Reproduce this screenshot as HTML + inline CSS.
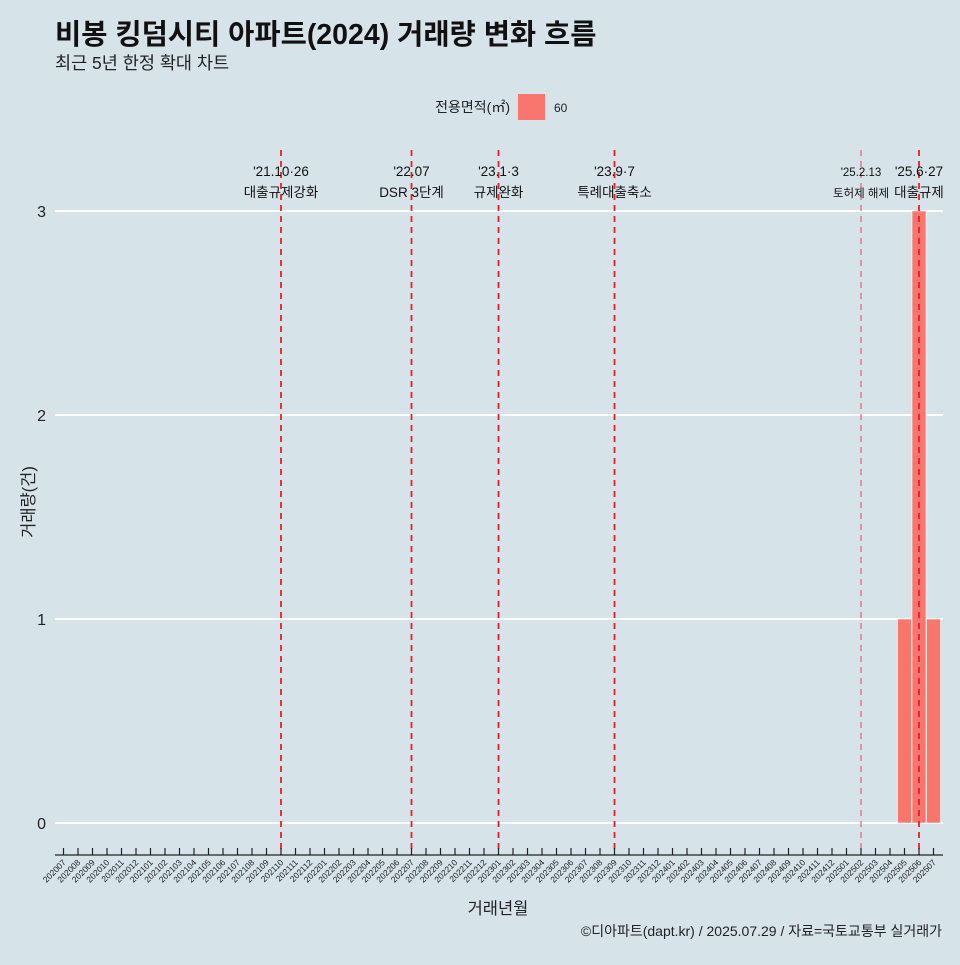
<!DOCTYPE html>
<html><head><meta charset="utf-8">
<style>
body{margin:0;background:#d6e4ea;font-family:"Liberation Sans","Noto Sans CJK KR",sans-serif;}
svg text{font-family:"Liberation Sans","Noto Sans CJK KR",sans-serif;}
</style></head>
<body>
<svg width="960" height="960" viewBox="0 0 960 960" xmlns="http://www.w3.org/2000/svg">
<rect width="960" height="960" fill="#d6e4ea"/>
<text x="55" y="44" font-size="28.5" font-weight="bold" fill="#111">비봉 킹덤시티 아파트(2024) 거래량 변화 흐름</text>
<text x="55" y="69" font-size="17.5" fill="#222">최근 5년 한정 확대 차트</text>
<g>
<text x="510" y="112" font-size="14" text-anchor="end" fill="#222">전용면적(㎡)</text>
<rect x="518" y="94" width="27" height="26" fill="#f8766d"/>
<text x="554" y="112" font-size="12" fill="#222">60</text>
</g>
<g id="grid"></g>
<g id="bars"></g>
<g id="events"></g>
<g id="xaxis"></g>
<g id="yaxis"></g>
<text x="498" y="914" font-size="16.5" text-anchor="middle" fill="#222">거래년월</text>
<text transform="translate(34,502) rotate(-90)" font-size="16.5" text-anchor="middle" fill="#222">거래량(건)</text>
<text x="942" y="936" font-size="14" text-anchor="end" fill="#222">©디아파트(dapt.kr) / 2025.07.29 / 자료=국토교통부 실거래가</text>
</svg>
<script>
const months = [];
for (let y = 2020; y <= 2025; y++) for (let m = 1; m <= 12; m++) {
  const k = y * 100 + m; if (k >= 202007 && k <= 202507) months.push(String(k));
}
const barMonths = ["202505", "202506", "202507"];
const barValues = [1, 3, 1];
const yTicks = [0, 1, 2, 3];
const events = [
  {month:"202110", l1:"'21.10·26", l2:"대출규제강화", faint:false},
  {month:"202207", l1:"'22.07", l2:"DSR 3단계", faint:false},
  {month:"202301", l1:"'23.1·3", l2:"규제완화", faint:false},
  {month:"202309", l1:"'23.9·7", l2:"특례대출축소", faint:false},
  {month:"202502", l1:"'25.2.13", l2:"토허제 해제", faint:true},
  {month:"202506", l1:"'25.6·27", l2:"대출규제", faint:false}
];
const NS = "http://www.w3.org/2000/svg";
const x0 = 63.5, step = 14.5, y0 = 823, unit = 204, left = 55, right = 943, axisY = 855;
const xs = m => x0 + months.indexOf(m) * step;
const ys = v => y0 - v * unit;
function mk(tag, attrs, parent) { const e = document.createElementNS(NS, tag); for (const k in attrs) e.setAttribute(k, attrs[k]); parent.appendChild(e); return e; }
const grid = document.getElementById('grid'), bars = document.getElementById('bars'), ev = document.getElementById('events'), xa = document.getElementById('xaxis'), ya = document.getElementById('yaxis');
yTicks.forEach(t => {
  const l = mk('line', {x1:left, x2:right, y1:ys(t), y2:ys(t), stroke:'#fff', 'stroke-width':2}, grid);
  
  
  const tx = mk('text', {x:46, y:ys(t) + 6, 'font-size':16, 'text-anchor':'end', fill:'#222'}, ya);
  tx.textContent = t;
  
  
});
barMonths.forEach((m, i) => {
  const cx = xs(m), w = 14;
  const r = mk('rect', {x:cx - w/2, y:ys(barValues[i]), width:w, height:barValues[i] * unit, fill:'#f8766d', stroke:'#fff', 'stroke-width':0.6}, bars);
  
  
});
events.forEach(e => {
  const cx = xs(e.month);
  const l = mk('line', {x1:cx, x2:cx, y1:150, y2:axisY, stroke: e.faint ? '#e8606a' : '#ee1c25', 'stroke-width': e.faint ? 1.2 : 1.8, 'stroke-dasharray':'6,5'}, ev);
  
  
  const fs = e.faint ? 11.5 : 13.5;
  const t1 = mk('text', {x:cx, y:176, 'font-size':fs, 'text-anchor':'middle', fill:'#111'}, ev);
  t1.textContent = e.l1;
  
  
  const t2 = mk('text', {x:cx, y:197, 'font-size':fs, 'text-anchor':'middle', fill:'#111'}, ev);
  t2.textContent = e.l2;
  
  
});
const al = mk('line', {x1:left, x2:right, y1:axisY, y2:axisY, stroke:'#222', 'stroke-width':1.2}, xa);


months.forEach(m => {
  const cx = xs(m);
  const tk = mk('line', {x1:cx, x2:cx, y1:axisY - 7, y2:axisY, stroke:'#222', 'stroke-width':1.2}, xa);
  
  
  const t = mk('text', {x:cx + 3, y:axisY + 8, 'font-size':8.5, 'text-anchor':'end', fill:'#222', transform:`rotate(-45 ${cx + 3} ${axisY + 8})`}, xa);
  t.textContent = m;
  
  
});
</script>
</body></html>
